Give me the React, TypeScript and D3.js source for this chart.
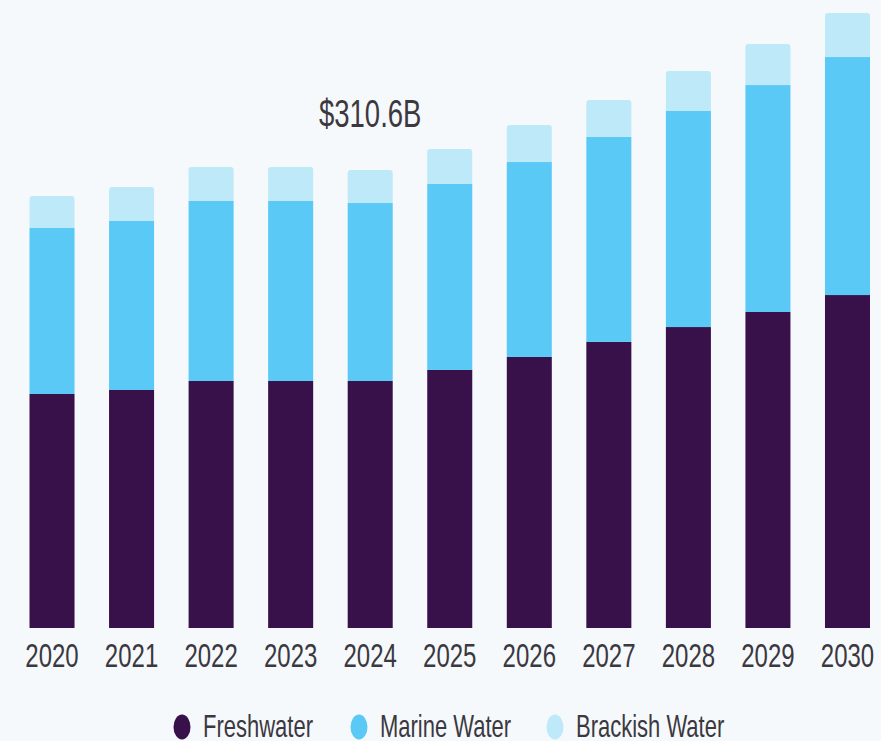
import React from "react";
import * as d3 from "d3";

const years = ["2020", "2021", "2022", "2023", "2024", "2025", "2026", "2027", "2028", "2029", "2030"];
const freshwater = [158.7, 161.4, 167.5, 167.5, 167.5, 175.0, 183.8, 194.0, 204.1, 214.3, 225.8];
const marineWater = [112.6, 114.6, 122.1, 122.1, 120.7, 126.1, 132.2, 139.0, 146.5, 153.9, 161.4];
const brackishWater = [21.7, 23.1, 23.1, 23.1, 22.4, 23.7, 25.1, 25.1, 27.1, 27.8, 29.8];
const seriesNames = ["Freshwater", "Marine Water", "Brackish Water"];
const seriesColors = ["#38104a", "#5bc9f6", "#bde9f9"];
const highlightYear = "2024";
const highlightLabel = "$310.6B";

const W = 881;
const H = 741;
const VS = 1.42; // vertical stretch of text

export default function App() {
  const rows = years.map((y, i) => ({
    year: y,
    Freshwater: freshwater[i],
    "Marine Water": marineWater[i],
    "Brackish Water": brackishWater[i],
  }));
  const stack = d3.stack<any>().keys(seriesNames)(rows);
  const x = d3.scaleBand<string>().domain(years).range([29.5, 870]).paddingInner(0.434).paddingOuter(0);
  const y = d3.scaleLinear().domain([0, 310.6]).range([628, 170]);
  const bw = x.bandwidth();
  const r = 3;

  const topPath = (x0: number, y0: number, w: number, y1: number) => {
    const p = d3.path();
    p.moveTo(x0, y1);
    p.lineTo(x0, y0 + r);
    p.arcTo(x0, y0, x0 + r, y0, r);
    p.lineTo(x0 + w - r, y0);
    p.arcTo(x0 + w, y0, x0 + w, y0 + r, r);
    p.lineTo(x0 + w, y1);
    p.closePath();
    return p.toString();
  };

  const hi = rows.find((d) => d.year === highlightYear)!;
  const hiTotal = hi.Freshwater + hi["Marine Water"] + hi["Brackish Water"];
  const textColor = "#3b3840";
  const legendX = [182, 359, 555];

  return (
    <svg
      width={W}
      height={H}
      style={{ position: "absolute", left: 0, top: 0, display: "block", background: "#f5f9fc" }}
      fontFamily="'Liberation Sans', Arial, sans-serif"
    >
      <rect x={0} y={0} width={W} height={H} fill="#f5f9fc" />
      {stack.map((s, si) => (
        <g key={s.key} fill={seriesColors[si]}>
          {s.map((d: any, i: number) => {
            const x0 = x(d.data.year)!;
            const y0 = y(d[1]);
            const y1 = y(d[0]);
            return si === stack.length - 1 ? (
              <path key={i} d={topPath(x0, y0, bw, y1)} />
            ) : (
              <rect key={i} x={x0} y={y0} width={bw} height={y1 - y0} />
            );
          })}
        </g>
      ))}
      {years.map((yr) => (
        <text
          key={yr}
          transform={`translate(${x(yr)! + bw / 2},667) scale(1,${VS})`}
          textAnchor="middle"
          fontSize={24}
          fill={textColor}
        >
          {yr}
        </text>
      ))}
      <text
        transform={`translate(${x(highlightYear)! + bw / 2},${y(hiTotal) - 43}) scale(1,1.38)`}
        textAnchor="middle"
        fontSize={27.5}
        fill={textColor}
      >
        {highlightLabel}
      </text>
      {seriesNames.map((n, i) => (
        <g key={n}>
          <ellipse cx={legendX[i]} cy={727} rx={8.5} ry={12.5} fill={seriesColors[i]} />
          <text
            transform={`translate(${legendX[i] + 21},737) scale(1,${VS})`}
            fontSize={22}
            fill={textColor}
          >
            {n}
          </text>
        </g>
      ))}
    </svg>
  );
}
